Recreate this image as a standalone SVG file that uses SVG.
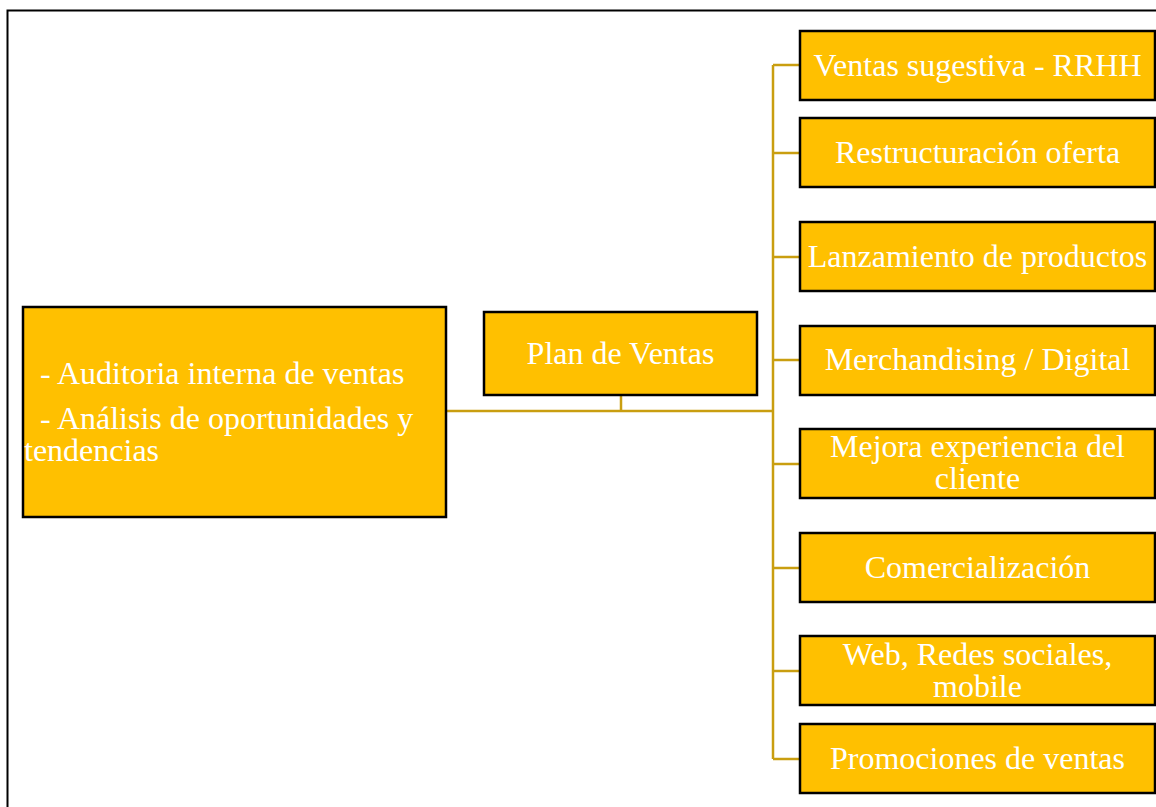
<svg xmlns="http://www.w3.org/2000/svg" width="1156" height="807" viewBox="0 0 1156 807">
  <style>
    .box { fill: #FFC000; stroke: #000; stroke-width: 2.5; }
    .lbl { font-family: "Liberation Serif", "Times New Roman", serif; font-size: 32px; fill: #fff; text-anchor: middle; }
    .lft { font-family: "Liberation Serif", "Times New Roman", serif; font-size: 32px; fill: #fff; white-space: pre; }
    .conn { fill: none; stroke: #C99E10; stroke-width: 2.5; }
  </style>
  <rect x="0" y="0" width="1156" height="807" fill="#fff"/>
  <!-- outer frame -->
  <rect x="7.5" y="10.5" width="1160" height="810" fill="none" stroke="#000" stroke-width="2"/>

  <g id="connectors">
    <path class="conn" d="M446 411 H773 M621 395 V411 M773 65 V759"/>
    <path class="conn" d="M773 65 H800 M773 153 H800 M773 257 H800 M773 360 H800 M773 464 H800 M773 568 H800 M773 671 H800 M773 759 H800"/>
  </g>

  <g id="n-analisis">
    <rect class="box" x="23" y="307" width="423" height="210"/>
    <text class="lft" x="24" y="384">  - Auditoria interna de ventas</text>
    <text class="lft" x="24" y="429">  - Análisis de oportunidades y</text>
    <text class="lft" x="24" y="461">tendencias</text>
  </g>

  <g id="n-plan">
    <rect class="box" x="484" y="312" width="273" height="83"/>
    <text class="lbl" x="620.5" y="364">Plan de Ventas</text>
  </g>

  <g id="n-ventas-sugestiva">
    <rect class="box" x="800" y="31" width="355" height="69"/>
    <text class="lbl" x="977.5" y="76">Ventas sugestiva - RRHH</text>
  </g>
  <g id="n-restructuracion">
    <rect class="box" x="800" y="118" width="355" height="69"/>
    <text class="lbl" x="977.5" y="163">Restructuración oferta</text>
  </g>
  <g id="n-lanzamiento">
    <rect class="box" x="800" y="222" width="355" height="69"/>
    <text class="lbl" x="977.5" y="267">Lanzamiento de productos</text>
  </g>
  <g id="n-merchandising">
    <rect class="box" x="800" y="326" width="355" height="69"/>
    <text class="lbl" x="977.5" y="370">Merchandising / Digital</text>
  </g>
  <g id="n-experiencia">
    <rect class="box" x="800" y="429" width="355" height="69"/>
    <text class="lbl" x="977.5" y="457">Mejora experiencia del</text>
    <text class="lbl" x="977.5" y="489">cliente</text>
  </g>
  <g id="n-comercializacion">
    <rect class="box" x="800" y="533" width="355" height="69"/>
    <text class="lbl" x="977.5" y="578">Comercialización</text>
  </g>
  <g id="n-web">
    <rect class="box" x="800" y="636" width="355" height="69"/>
    <text class="lbl" x="977.5" y="665">Web, Redes sociales,</text>
    <text class="lbl" x="977.5" y="697">mobile</text>
  </g>
  <g id="n-promociones">
    <rect class="box" x="800" y="724" width="355" height="69"/>
    <text class="lbl" x="977.5" y="769">Promociones de ventas</text>
  </g>
</svg>
